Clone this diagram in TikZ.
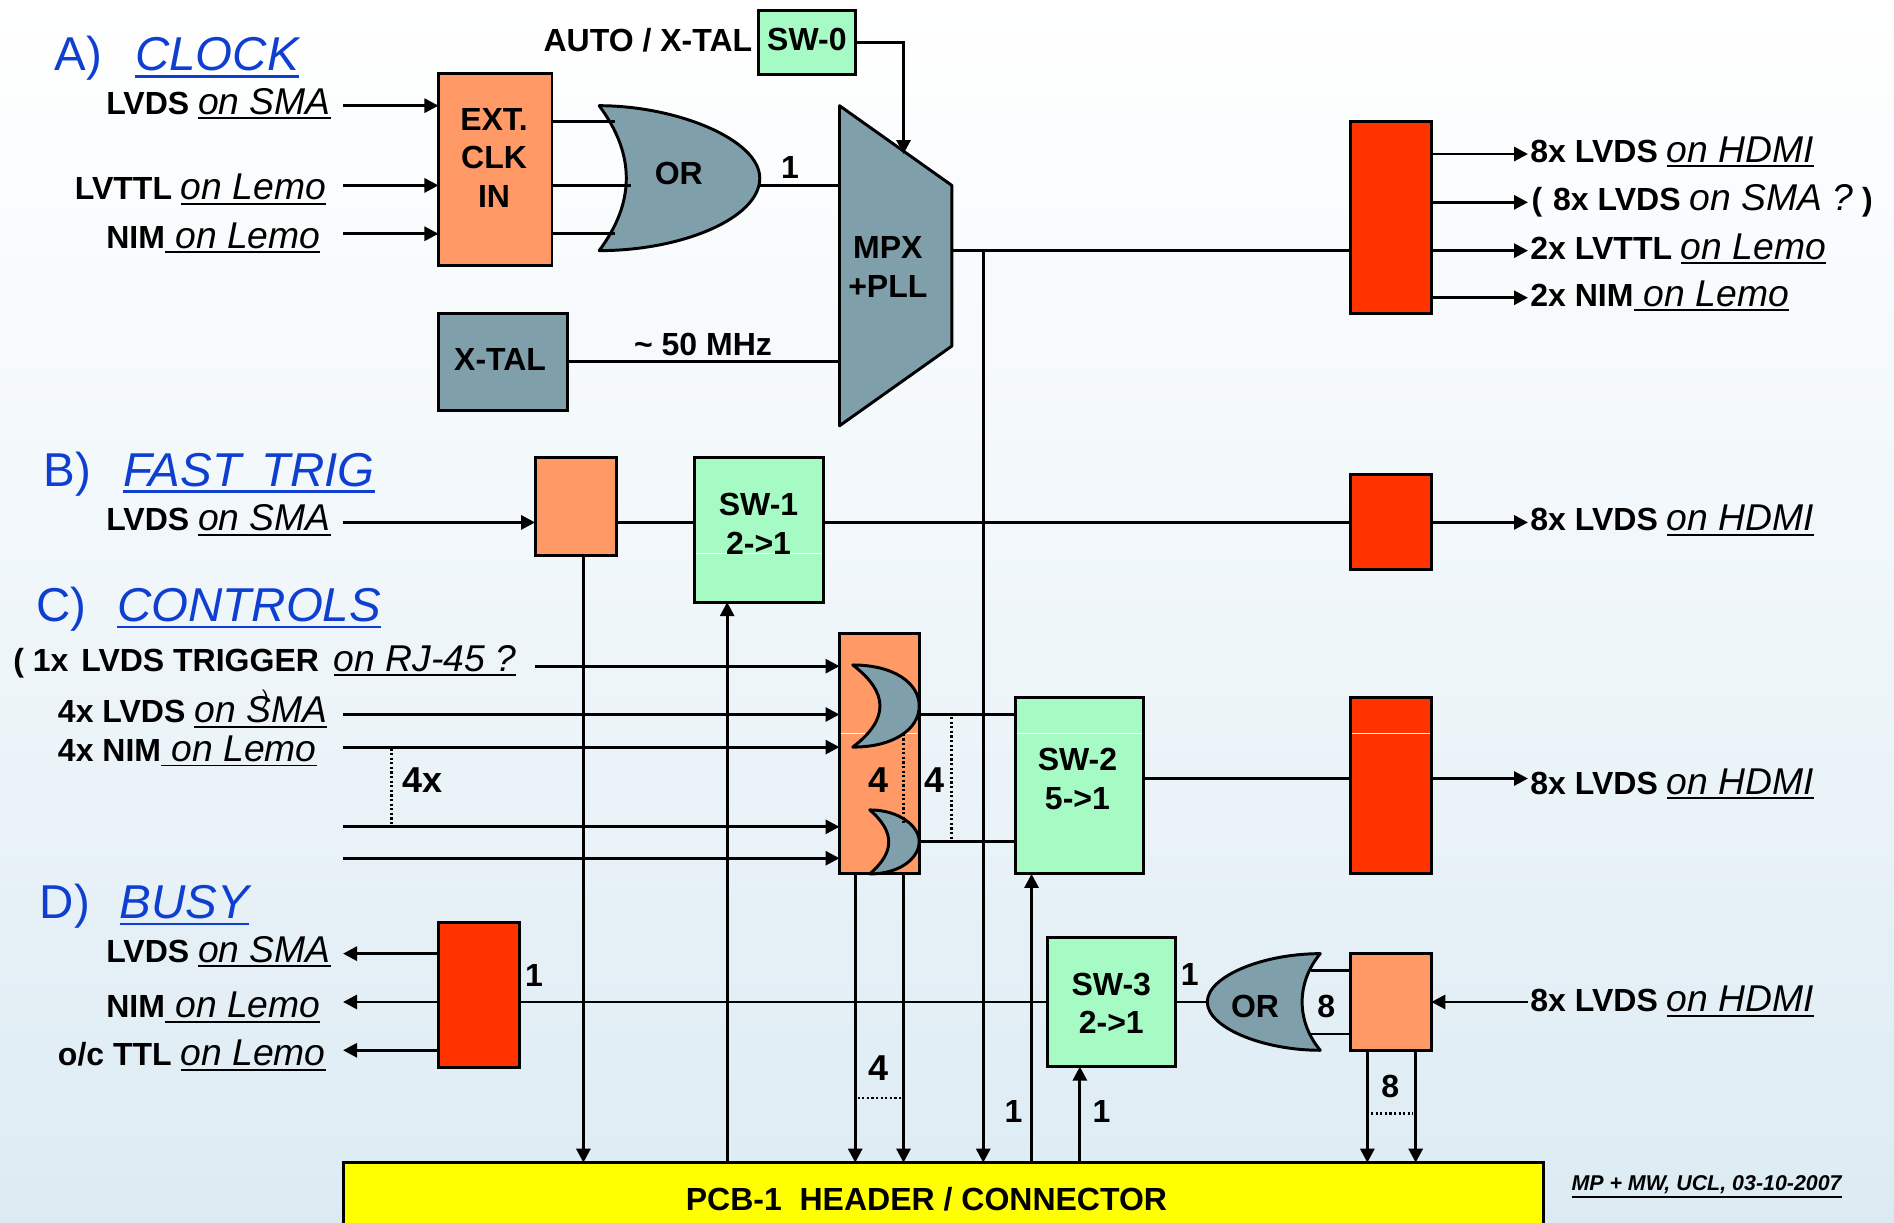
\documentclass[tikz,border=0pt]{standalone}
\usepackage{fontspec}
\setmainfont{Liberation Sans}
\usetikzlibrary{arrows.meta,calc}
\definecolor{orangebx}{HTML}{FF9966}
\definecolor{redbx}{HTML}{FF3300}
\definecolor{greenbx}{HTML}{A6FBC5}
\definecolor{greybx}{HTML}{7F9FAB}
\definecolor{headblue}{HTML}{0F3FD0}
\definecolor{bgbottom}{HTML}{DCEBF3}
\definecolor{pcbyellow}{HTML}{FFFF00}
\newcommand{\ulx}[1]{\leavevmode\vtop{\hbox{#1}\kern2.6pt\hrule height 1.9pt}}
\newcommand{\ulh}[1]{\leavevmode\vtop{\hbox{#1}\kern3.6pt\hrule height 2.8pt}}
\newcommand{\bsz}{\fontsize{32}{38.6}\selectfont\bfseries}
\newcommand{\isz}{\fontsize{37.3}{38}\selectfont\mdseries\itshape}
\newcommand{\hsz}{\fontsize{47.5}{50}\selectfont\mdseries}
\newcommand{\lab}[2]{{\bsz #1}\ulx{\isz #2}}
\newcommand{\bx}[6]{%
  \pgfmathsetmacro{\bw}{(#4-#2)*1.2079}\pgfmathsetmacro{\bh}{(#5-#3)*1.2079}%
  \node[#6,minimum width=\bw pt,minimum height=\bh pt] (#1) at ({(#2+#4)/2},{(#3+#5)/2}) {};}
\tikzset{
  boxbase/.style={draw=black,line width=2.95pt,inner sep=0pt,outer sep=0pt,rectangle},
  orangebox/.style={boxbase,fill=orangebx},
  redbox/.style={boxbase,fill=redbx},
  greenbox/.style={boxbase,fill=greenbx},
  greybox/.style={boxbase,fill=greybx},
  yellowbox/.style={boxbase,fill=pcbyellow},
  gate/.style={draw=black,line width=2.95pt,fill=greybx,line join=round},
  wire/.style={draw=black,line width=2.95pt},
  arr/.style={wire,-{Triangle[length=14pt,width=14pt]}},
  dots/.style={draw=black,line width=2.9pt,dash pattern=on 2.2pt off 2.4pt},
  boldtxt/.style={font=\bsz,align=center,inner sep=0pt},
  bigtxt/.style={font=\fontsize{36}{38}\selectfont\bfseries,inner sep=0pt},
  labtxt/.style={anchor=base west,inner sep=0pt,outer sep=0pt},
  headtxt/.style={anchor=base west,inner sep=0pt,outer sep=0pt,text=headblue},
  sheen/.style={draw=white,line width=0.8pt},
}
\begin{document}
\begin{tikzpicture}[x=1.2079pt,y=-1.2079pt]
\useasboundingbox (0,-0.5) rectangle (1568,1011.5);
\shade[top color=white,bottom color=bgbottom,middle color=bgbottom!45!white] (0,-0.5) rectangle (1568,1011.5);

% boxes
\bx{ext}{363}{60}{457}{219}{orangebox}
\bx{xtal}{363}{259}{470}{339}{greybox}
\bx{swz}{628}{8}{708}{61}{greenbox}
\bx{rta}{1118}{100}{1185}{259}{redbox}
\bx{oft}{443}{378}{510}{459}{orangebox}
\bx{swa}{575}{378}{682}{498}{greenbox}
\bx{rft}{1118}{392}{1185}{471}{redbox}
\bx{octl}{695}{524}{761}{723}{orangebox}
\bx{swb}{840.5}{577}{947}{723}{greenbox}
\bx{rctl}{1118}{577}{1185}{723}{redbox}
\bx{rbsy}{363}{763}{430}{883}{redbox}
\bx{swc}{867}{776}{973.5}{882.5}{greenbox}
\bx{obsy}{1118}{789}{1185}{869}{orangebox}
\bx{pcb}{284}{962}{1278}{1040}{yellowbox}

% faint light rules across some boxes
\coordinate (sha) at (576.5,458); \coordinate (shb) at (680.5,458);
\coordinate (shc) at (696.5,607); \coordinate (shd) at (759.5,607);
\coordinate (she) at (842,607); \coordinate (shf) at (945.5,607);
\coordinate (shg) at (1119.5,607); \coordinate (shh) at (1183.5,607);
\draw[sheen] (sha) -- (shb);
\draw[sheen] (shc) -- (shd);
\draw[sheen] (she) -- (shf);
\draw[sheen] (shg) -- (shh);

% MPX and gates
\draw[gate] (695,87) -- (788,153) -- (788,286) -- (695,352) -- cycle;
\draw[gate] (496,87) .. controls (560,87) and (629,115) .. (629,147) .. controls (629,180) and (565,207) .. (496,207) .. controls (526,167) and (526,127) .. cycle;
\draw[gate] (706,550) .. controls (740,550) and (761,565) .. (761,584) .. controls (761,603) and (740,618) .. (706,618) .. controls (736,595) and (736,573) .. cycle;
\draw[gate] (720,670) .. controls (745,670) and (761,684) .. (761,696) .. controls (761,710) and (745,723) .. (720,723) .. controls (741,705) and (741,688) .. cycle;
\draw[gate] (1093,789) .. controls (1045,789) and (999.5,808) .. (999.5,829) .. controls (999.5,850) and (1045,869) .. (1093,869) .. controls (1073,845) and (1073,813) .. cycle;

% pins and free ends
\coordinate (mpxclk) at (695,153);
\coordinate (mpxx) at (695,299);
\coordinate (mpxsel) at (748,127);
\coordinate (mpxout) at (788,207);
\coordinate (orout) at (629,153);
\coordinate (orina) at (509,100);
\coordinate (orinb) at (522,153);
\coordinate (orinc) at (509,193);
\coordinate (gaout) at (761,591);
\coordinate (gbout) at (761,696);
\coordinate (orbin) at (999.5,829);
\coordinate (orbia) at (1085,803);
\coordinate (orbib) at (1085,855.5);
\foreach \n/\x/\y in {ia/284/87,ib/284/153,ic/284/193,fa/284/432,ca/443/551,cb/284/591,cc/284/618,cd/284/684,ce/284/710,
  oa/1265/127,ob/1265/167,oc/1265/207,od/1265/246,oe/1265/432,of/1265/644,og/1265/829,
  ba/284/789,bb/284/829,bc/284/869,
  v1/483/962,v2/602/962,v3/708/962,v4/748/962,v5/814/962,v6/854/962,v7/894/962,v8/1132/962,v9/1172/962,
  tap/814/207}
  {\coordinate (\n) at (\x,\y);}

% clock section
\draw[arr] (ia) -- (ia -| ext.west);
\draw[arr] (ib) -- (ib -| ext.west);
\draw[arr] (ic) -- (ic -| ext.west);
\draw[wire] (ext.east |- orina) -- (orina);
\draw[wire] (ext.east |- orinb) -- (orinb);
\draw[wire] (ext.east |- orinc) -- (orinc);
\draw[wire] (orout) -- (mpxclk);
\draw[wire] (xtal.east |- mpxx) -- (mpxx);
\draw[arr] (swz.east |- 0,35) -- (mpxsel |- 0,35) -- (mpxsel);
\draw[wire] (mpxout) -- (mpxout -| rta.west);
\draw[arr] (tap) -- (v5);
\draw[arr] (rta.east |- oa) -- (oa);
\draw[arr] (rta.east |- ob) -- (ob);
\draw[arr] (rta.east |- oc) -- (oc);
\draw[arr] (rta.east |- od) -- (od);

% fast trig
\draw[arr] (fa) -- (fa -| oft.west);
\draw[wire] (oft.east |- fa) -- (swa.west |- fa);
\draw[wire] (swa.east |- fa) -- (rft.west |- fa);
\draw[arr] (rft.east |- oe) -- (oe);
\draw[arr] (oft.south -| v1) -- (v1);
\draw[arr] (v2) -- (v2 |- swa.south);

% controls
\draw[arr] (ca) -- (ca -| octl.west);
\draw[arr] (cb) -- (cb -| octl.west);
\draw[arr] (cc) -- (cc -| octl.west);
\draw[arr] (cd) -- (cd -| octl.west);
\draw[arr] (ce) -- (ce -| octl.west);
\draw[wire] (gaout) -- (gaout -| swb.west);
\draw[wire] (gbout) -- (gbout -| swb.west);
\draw[wire] (swb.east |- of) -- (rctl.west |- of);
\draw[arr] (rctl.east |- of) -- (of);
\draw[arr] (octl.south -| v3) -- (v3);
\draw[arr] (octl.south -| v4) -- (v4);
\draw[arr] (v6) -- (v6 |- swb.south);

% busy
\draw[arr] (rbsy.west |- ba) -- (ba);
\draw[arr] (rbsy.west |- bb) -- (bb);
\draw[arr] (rbsy.west |- bc) -- (bc);
\draw[wire] (rbsy.east |- bb) -- (swc.west |- bb);
\draw[arr] (v7) -- (v7 |- swc.south);
\draw[wire] (swc.east |- orbin) -- (orbin);
\draw[wire] (orbia) -- (orbia -| obsy.west);
\draw[wire] (orbib) -- (orbib -| obsy.west);
\draw[arr] (og) -- (og -| obsy.east);
\draw[arr] (obsy.south -| v8) -- (v8);
\draw[arr] (obsy.south -| v9) -- (v9);

% dotted bus marks
\coordinate (da) at (324,619); \coordinate (db) at (324,683);
\coordinate (dc) at (748,607); \coordinate (dd) at (748,683);
\coordinate (de) at (788,593); \coordinate (df) at (788,695);
\coordinate (dg) at (710,908.5); \coordinate (dh) at (747,908.5);
\coordinate (di) at (1135,921.5); \coordinate (dj) at (1170,921.5);
\draw[dots] (da) -- (db);
\draw[dots] (dc) -- (dd);
\draw[dots] (de) -- (df);
\draw[dots] (dg) -- (dh);
\draw[dots] (di) -- (dj);

% text in shapes
\node[boldtxt] (text) at (409,130) {EXT.\\CLK\\IN};
\node[boldtxt] (tor) at (562,143) {OR};
\node[boldtxt] (tmpx) at (735,220.5) {MPX\\+PLL};
\node[boldtxt] (txtal) at (414,297) {X-TAL};
\node[boldtxt] (tswz) at (668,32) {SW-0};
\node[boldtxt] (tswa) at (628,433) {SW-1\\2->1};
\node[boldtxt] (tswb) at (892,644.5) {SW-2\\5->1};
\node[boldtxt] (tswc) at (920,830) {SW-3\\2->1};
\node[boldtxt] (torb) at (1039,833) {OR};
\node[boldtxt] (tpcb) at (767,992) {PCB-1\ \ HEADER / CONNECTOR};

% numbers
\node[boldtxt] (none) at (654,138) {1};
\node[boldtxt] (nmhz) at (582,285) {\textasciitilde\ 50 MHz};
\node[labtxt,font=\bsz] (nauto) at (450,42) {AUTO / X-TAL};
\node[bigtxt] (nfx) at (350,645) {4x};
\node[bigtxt] (nfa) at (727.5,645.5) {4};
\node[bigtxt] (nfb) at (774,645.5) {4};
\node[bigtxt] (nfc) at (727,884) {4};
\node[boldtxt] (nbo) at (442,807) {1};
\node[boldtxt] (nco) at (985,806) {1};
\node[boldtxt] (nei) at (1098,833) {8};
\node[boldtxt] (nej) at (1151,899) {8};
\node[boldtxt] (nok) at (839,920) {1};
\node[boldtxt] (nol) at (912,920) {1};

% section heads
\node[headtxt,font=\hsz] (ha) at (45,58) {A)};
\node[headtxt,font=\hsz\itshape] (hat) at (112,58) {\ulh{CLOCK}};
\node[headtxt,font=\hsz] (hb) at (36,402) {B)};
\node[headtxt,font=\hsz\itshape] (hbt) at (102,402) {\ulh{FAST\hspace{7pt} TRIG}};
\node[headtxt,font=\hsz] (hc) at (30,514) {C)};
\node[headtxt,font=\hsz\itshape] (hct) at (97,514) {\ulh{CONTROLS}};
\node[headtxt,font=\hsz] (hd) at (33,760) {D)};
\node[headtxt,font=\hsz\itshape] (hdt) at (99,760) {\ulh{BUSY}};

% left labels
\node[labtxt] (la) at (88,94) {\lab{LVDS\ }{on SMA}};
\node[labtxt] (lb) at (62,165) {\lab{LVTTL\ }{on Lemo}};
\node[labtxt] (lc) at (88,205) {\lab{NIM}{\ on Lemo}};
\node[labtxt] (ld) at (88,439) {\lab{LVDS\ }{on SMA}};
\node[labtxt] (le) at (11,555) {\lab{( 1x\ \hspace{4pt}LVDS TRIGGER\ \hspace{6pt}}{on RJ-45 ?}};
\node[labtxt] (lf) at (48,598) {\lab{4x LVDS\ }{on SMA}};
\node[labtxt,font=\fontsize{20}{20}\selectfont] (lfs) at (217,583) {)};
\node[labtxt] (lg) at (48,630) {\lab{4x NIM}{\ on Lemo}};
\node[labtxt] (lh) at (88,796) {\lab{LVDS\ }{on SMA}};
\node[labtxt] (li) at (88,842) {\lab{NIM}{\ on Lemo}};
\node[labtxt] (lj) at (48,882) {\lab{o/c TTL\ }{on Lemo}};

% right labels
\node[labtxt] (ra) at (1267,134) {\lab{8x LVDS\ }{on HDMI}};
\node[labtxt] (rb) at (1268,174) {{\bsz (\ \hspace{2pt}8x LVDS\ }{\isz on SMA ?}{\bsz\ )}};
\node[labtxt] (rc) at (1267,214) {\lab{2x LVTTL\ }{on Lemo}};
\node[labtxt] (rd) at (1267,253) {\lab{2x NIM}{\ on Lemo}};
\node[labtxt] (re) at (1267,439) {\lab{8x LVDS\ }{on HDMI}};
\node[labtxt] (rf) at (1267,657) {\lab{8x LVDS\ }{on HDMI}};
\node[labtxt] (rg) at (1267,837) {\lab{8x LVDS\ }{on HDMI}};
\node[labtxt,font=\fontsize{21.4}{24}\selectfont\bfseries\itshape] (foot) at (1301,985) {\ulx{MP + MW, UCL, 03-10-2007}};
\end{tikzpicture}
\end{document}
